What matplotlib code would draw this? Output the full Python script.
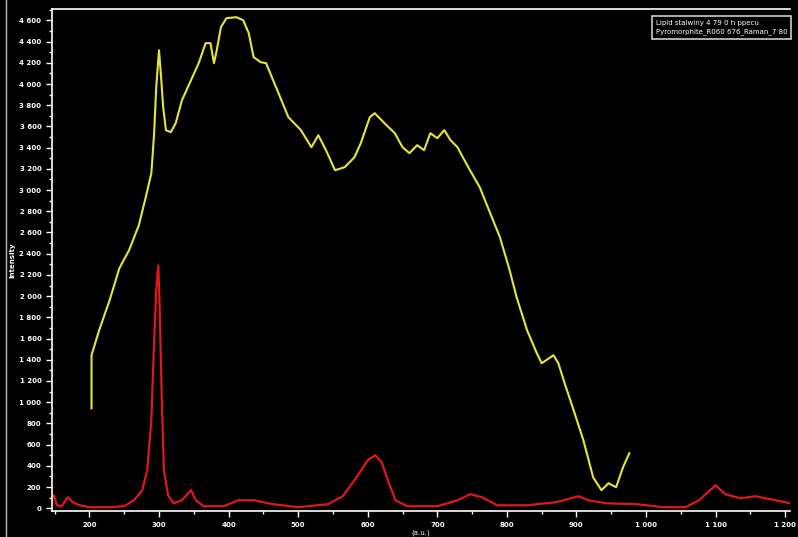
import matplotlib
matplotlib.use("Agg")
import matplotlib.pyplot as plt
from matplotlib.ticker import FuncFormatter, MultipleLocator
from matplotlib.lines import Line2D

# Yellow spectrum (raman shift, intensity)
yellow_x = [203, 203, 214, 229, 243, 257, 271, 281, 289, 293, 296, 300, 303, 306, 310, 317,
            324, 333, 346, 357, 367, 374, 379, 383, 389, 397, 411, 421, 429, 436, 446, 454,
            464, 476, 486, 504, 519, 529, 540, 553, 567, 581, 590, 603, 610, 624, 639, 650,
            660, 671, 681, 690, 700, 710, 719, 729, 739, 747, 761, 776, 790, 804, 814, 829,
            843, 850, 867, 874, 883, 896, 910, 924, 936, 946, 957, 967, 976]
yellow_y = [943, 1443, 1679, 1961, 2263, 2433, 2669, 2933, 3159, 3536, 3970, 4319, 4064, 3781,
            3564, 3546, 3631, 3847, 4036, 4196, 4385, 4385, 4196, 4319, 4536, 4621, 4630, 4602,
            4479, 4253, 4206, 4196, 4036, 3847, 3687, 3565, 3404, 3517, 3376, 3187, 3216, 3310,
            3442, 3687, 3725, 3631, 3536, 3404, 3348, 3423, 3376, 3536, 3489, 3565, 3470, 3404,
            3282, 3187, 3027, 2782, 2556, 2244, 1990, 1679, 1462, 1367, 1443, 1367, 1179, 924,
            641, 292, 170, 236, 198, 387, 519]

# Red spectrum
red_x = [146, 149, 153, 160, 169, 176, 186, 200, 229, 250, 264, 276, 283, 289, 293, 296, 299,
         301, 304, 307, 313, 321, 333, 346, 353, 364, 393, 414, 436, 464, 500, 543, 564, 583,
         600, 611, 620, 629, 640, 657, 700, 729, 747, 764, 786, 829, 871, 903, 917, 943, 986,
         1026, 1057, 1076, 1089, 1100, 1114, 1136, 1157, 1186, 1207]
red_y = [94, 123, 28, 20, 104, 57, 28, 10, 10, 19, 75, 170, 358, 830, 1585, 2056, 2292, 1868,
         1019, 358, 123, 47, 75, 170, 75, 19, 19, 75, 75, 38, 10, 38, 113, 283, 453, 500, 434,
         264, 75, 19, 19, 75, 132, 104, 28, 28, 57, 113, 75, 47, 38, 10, 10, 75, 151, 217, 132,
         94, 113, 75, 47]

legend_labels = ["Lipid stalwiny 4 79 0 h ppecu",
                 "Pyromorphite_R060 676_Raman_7 80"]
x_label = "(a.u.)"
y_label = "Intensity"

fig = plt.figure(figsize=(7.98, 5.37), dpi=100, facecolor="black")
ax = fig.add_axes([0.065, 0.048, 0.925, 0.935], facecolor="black")

ax.plot(yellow_x, yellow_y, color="#E8E43A", lw=1.5)
ax.plot(red_x, red_y, color="#E01818", lw=1.6)

ax.set_xlim(146, 1207)
ax.set_ylim(-28, 4706)

ax.xaxis.set_major_locator(MultipleLocator(100))
ax.xaxis.set_minor_locator(MultipleLocator(50))
ax.yaxis.set_major_locator(MultipleLocator(200))
ax.yaxis.set_minor_locator(MultipleLocator(100))
fmt = FuncFormatter(lambda v, p: f"{int(round(v)):,}".replace(",", " "))
ax.xaxis.set_major_formatter(fmt)
ax.yaxis.set_major_formatter(fmt)

for s in ["left", "bottom", "top"]:
    ax.spines[s].set_color("white")
    ax.spines[s].set_linewidth(1.2)
ax.spines["right"].set_visible(False)
ax.tick_params(axis="both", which="major", colors="white", labelsize=5, length=4, width=1)
ax.tick_params(axis="both", which="minor", colors="white", length=2, width=1)
for lab in ax.get_xticklabels() + ax.get_yticklabels():
    lab.set_fontweight("bold")

ax.set_xlabel(x_label, color="white", fontsize=5, labelpad=1)
ax.set_ylabel(y_label, color="white", fontsize=5, fontweight="bold")
ax.yaxis.set_label_coords(-0.05, 0.5)

handles = [Line2D([], [], lw=0), Line2D([], [], lw=0)]
leg = ax.legend(handles, legend_labels, loc="upper right", fontsize=5, frameon=True,
                facecolor="black", edgecolor="white", labelcolor="white",
                handlelength=0, handletextpad=0, borderpad=0.5, labelspacing=0.4,
                fancybox=False, bbox_to_anchor=(1.006, 0.993))
leg.get_frame().set_linewidth(1.2)

# outer frame line at left
fig.add_artist(Line2D([0.007, 0.007], [0, 1], transform=fig.transFigure,
                      color="#bbbbbb", lw=1))

fig.savefig("out.png", dpi=100, facecolor="black")
